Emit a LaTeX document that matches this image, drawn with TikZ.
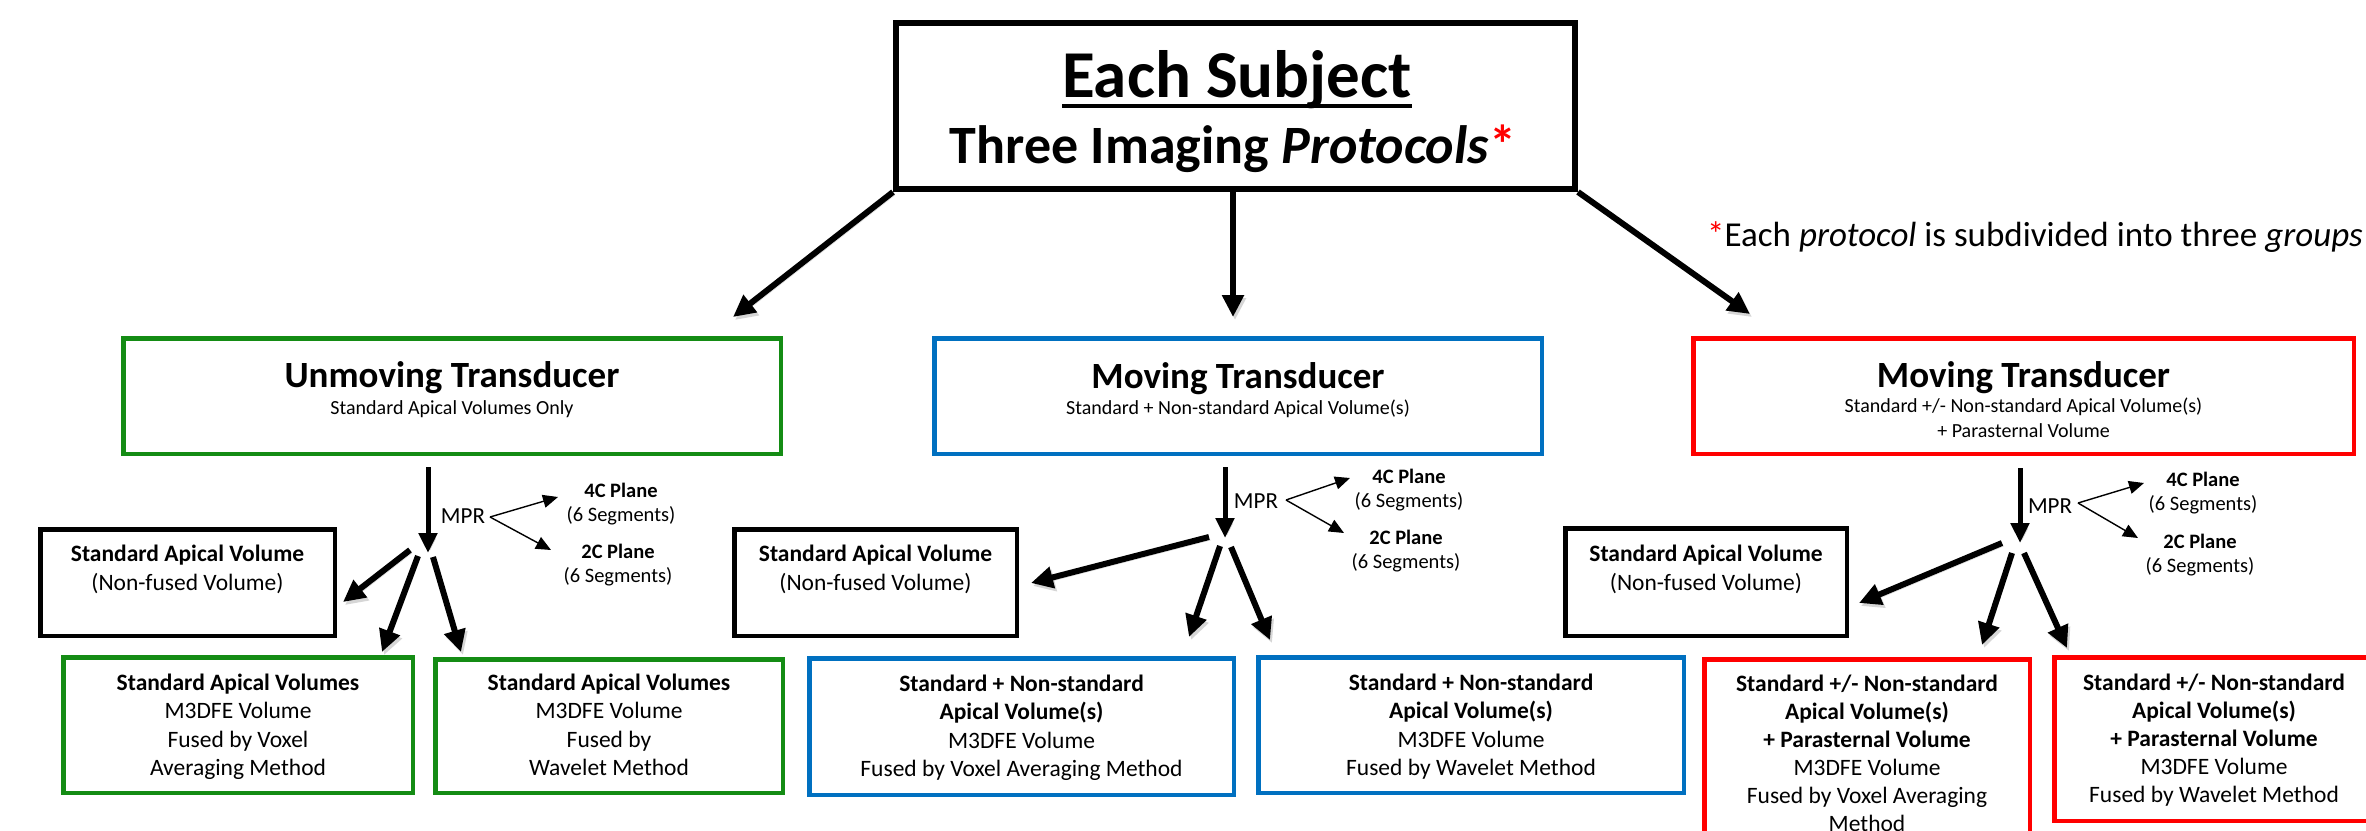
\documentclass[tikz,border=0pt]{standalone}
\usepackage{fontspec}
\setmainfont{Carlito}
\usetikzlibrary{arrows.meta}
\definecolor{gboxc}{RGB}{20,140,20}
\definecolor{bboxc}{RGB}{0,112,192}
\definecolor{rboxc}{RGB}{255,0,0}
\newcommand\fz[2]{\fontsize{#1}{#2}\selectfont}
\newcommand\tst{\rule{0pt}{0.8em}}
\newcommand\thickul[1]{\setbox0\hbox{#1}\rlap{\rule[-11pt]{\wd0}{4pt}}\box0}
\begin{document}
\begin{tikzpicture}[x=1pt,y=-1pt,
  box/.style={draw, line width=4.5pt, inner sep=0pt},
  shad/.style={preaction={draw=black!16, transform canvas={shift={(2pt,-3pt)}}}},
  bigarrow/.style={shad, line width=6pt, -{Triangle[length=22pt,width=21pt]}},
  midarrow/.style={shad, line width=5pt, -{Triangle[length=20pt,width=18pt]}},
  thinarrow/.style={line width=1.4pt, -{Triangle[length=15pt,width=13pt]}},
  txt/.style={inner sep=0pt, align=center},
  bodytxt/.style={txt, anchor=north, font=\fz{23.5}{28.5}},
  ttl/.style={inner sep=0pt, anchor=base, font=\fz{37}{44}\bfseries},
  sub/.style={inner sep=0pt, anchor=north, align=center, font=\fz{20}{25}},
  plane/.style={inner sep=0pt, anchor=north, align=center, font=\fz{20.5}{24}},
  mpr/.style={inner sep=0pt, anchor=base, font=\fz{23}{27}},
]
\path[use as bounding box, fill=white] (0,0) rectangle (2366,830);
\clip (0,0) rectangle (2366,830);

% ---- top box
\node[box, line width=6pt, minimum width=679pt, minimum height=166pt] (top) at (1235.5,106) {};
\node[inner sep=0pt, anchor=base, font=\fz{67}{74}\bfseries] (ttlA) at (1237,97) {\thickul{Each Subject}};
\node[inner sep=0pt, anchor=base, font=\fz{54}{60}\bfseries] (ttlB) at (1233,163) {Three Imaging \textit{Protocols}\textcolor{rboxc}{*}};
\node[inner sep=0pt, anchor=base west, font=\fz{35}{40}] (foot) at (1707,246) {\textcolor{rboxc}{*}Each \textit{protocol} is subdivided into three \textit{groups}};

% ---- level 2 boxes
\node[box, draw=gboxc, minimum width=657.5pt, minimum height=115.5pt] (gtop) at (452,396) {};
\node[box, draw=bboxc, minimum width=607.5pt, minimum height=115.5pt] (btop) at (1238,396) {};
\node[box, draw=rboxc, minimum width=660.5pt, minimum height=115.5pt] (rtop) at (2023.5,396) {};
\node[ttl] (gttl) at (452,387) {Unmoving Transducer};
\node[sub] (gsub) at (452,398) {\tst Standard Apical Volumes Only};
\node[ttl] (bttl) at (1238,388) {Moving Transducer};
\node[sub] (bsub) at (1238,398) {\tst Standard + Non-standard Apical Volume(s)};
\node[ttl] (rttl) at (2023.5,387) {Moving Transducer};
\node[sub] (rsub) at (2023.5,396) {\tst Standard +/- Non-standard Apical Volume(s)\\+ Parasternal Volume};

% ---- top arrows
\coordinate (tl) at (733,317);
\coordinate (tc) at (1233,317);
\coordinate (tr) at (1750,314);
\draw[bigarrow] (top.south west) -- (tl);
\draw[bigarrow] (1233,192) -- (tc);
\draw[bigarrow] (top.south east) -- (tr);

% ================= GREEN
\coordinate (gm0) at (428,467);
\coordinate (gm1) at (428,553);
\draw[midarrow] (gm0) -- (gm1);
\node[mpr] (gmpr) at (463,523) {MPR};
\coordinate (gms) at (490,517);
\coordinate (g4t) at (558,497);
\coordinate (g2t) at (551,550);
\draw[thinarrow] (gms) -- (g4t);
\draw[thinarrow] (gms) -- (g2t);
\node[plane] (g4c) at (621,497-16.4) {\tst\textbf{4C Plane}\\(6 Segments)};
\node[plane] (g2c) at (618,558-16.4) {\tst\textbf{2C Plane}\\(6 Segments)};
\node[box, minimum width=294.5pt, minimum height=106.5pt] (gstd) at (187.5,582.5) {};
\node[bodytxt, font=\fz{23.5}{29}] (gstdt) at (187.5,542) {\tst\textbf{Standard Apical Volume}\\(Non-fused Volume)};
\node[box, draw=gboxc, minimum width=349.5pt, minimum height=135.5pt] (gb1) at (238,725) {};
\node[box, draw=gboxc, minimum width=347.5pt, minimum height=133.5pt] (gb2) at (609,726) {};
\node[bodytxt] (gb1t) at (238,671) {\tst\textbf{Standard Apical Volumes}\\M3DFE Volume\\Fused by Voxel\\Averaging Method};
\node[bodytxt] (gb2t) at (609,671) {\tst\textbf{Standard Apical Volumes}\\M3DFE Volume\\Fused by\\Wavelet Method};
\coordinate (ga1) at (410,550); \coordinate (ga1t) at (343,602);
\coordinate (ga2) at (418,556); \coordinate (ga2t) at (382,652);
\coordinate (ga3) at (433,557); \coordinate (ga3t) at (461,652);
\draw[bigarrow] (ga1) -- (ga1t);
\draw[bigarrow] (ga2) -- (ga2t);
\draw[bigarrow] (ga3) -- (ga3t);

% ================= BLUE
\coordinate (bm0) at (1225,467);
\coordinate (bm1) at (1225,538);
\draw[midarrow] (bm0) -- (bm1);
\node[mpr] (bmpr) at (1256,508) {MPR};
\coordinate (bms) at (1286,500);
\coordinate (b4t) at (1350,478);
\coordinate (b2t) at (1344,533);
\draw[thinarrow] (bms) -- (b4t);
\draw[thinarrow] (bms) -- (b2t);
\node[plane] (b4c) at (1409,483-16.4) {\tst\textbf{4C Plane}\\(6 Segments)};
\node[plane] (b2c) at (1406,544-16.4) {\tst\textbf{2C Plane}\\(6 Segments)};
\node[box, minimum width=282.5pt, minimum height=106.5pt] (bstd) at (875.5,582.5) {};
\node[bodytxt, font=\fz{23.5}{29}] (bstdt) at (875.5,542) {\tst\textbf{Standard Apical Volume}\\(Non-fused Volume)};
\node[box, draw=bboxc, minimum width=424.5pt, minimum height=136.5pt] (bb1) at (1021.5,726.5) {};
\node[box, draw=bboxc, minimum width=425.5pt, minimum height=135.5pt] (bb2) at (1471,725) {};
\node[bodytxt] (bb1t) at (1021.5,672) {\tst\textbf{Standard + Non-standard}\\\textbf{Apical Volume(s)}\\M3DFE Volume\\Fused by Voxel Averaging Method};
\node[bodytxt] (bb2t) at (1471,671) {\tst\textbf{Standard + Non-standard}\\\textbf{Apical Volume(s)}\\M3DFE Volume\\Fused by Wavelet Method};
\coordinate (ba1) at (1209,537); \coordinate (ba1t) at (1031,583);
\coordinate (ba2) at (1220,546); \coordinate (ba2t) at (1189,637);
\coordinate (ba3) at (1231,547); \coordinate (ba3t) at (1270,640);
\draw[bigarrow] (ba1) -- (ba1t);
\draw[bigarrow] (ba2) -- (ba2t);
\draw[bigarrow] (ba3) -- (ba3t);

% ================= RED
\coordinate (rm0) at (2020,468);
\coordinate (rm1) at (2020,543);
\draw[midarrow] (rm0) -- (rm1);
\node[mpr] (rmpr) at (2050,513) {MPR};
\coordinate (rms) at (2078,503);
\coordinate (r4t) at (2144,483);
\coordinate (r2t) at (2138,538);
\draw[thinarrow] (rms) -- (r4t);
\draw[thinarrow] (rms) -- (r2t);
\node[plane] (r4c) at (2203,486-16.4) {\tst\textbf{4C Plane}\\(6 Segments)};
\node[plane] (r2c) at (2200,548-16.4) {\tst\textbf{2C Plane}\\(6 Segments)};
\node[box, minimum width=281.5pt, minimum height=107.5pt] (rstd) at (1706,582) {};
\node[bodytxt, font=\fz{23.5}{29}] (rstdt) at (1706,542) {\tst\textbf{Standard Apical Volume}\\(Non-fused Volume)};
\node[box, draw=rboxc, minimum width=325.5pt, minimum height=208.5pt] (rb1) at (1867,763.5) {};
\node[box, draw=rboxc, minimum width=319.5pt, minimum height=163.5pt] (rb2) at (2214,739) {};
\node[bodytxt, font=\fz{23.5}{28}] (rb1t) at (1867,672) {\tst\textbf{Standard +/- Non-standard}\\\textbf{Apical Volume(s)}\\\textbf{+ Parasternal Volume}\\M3DFE Volume\\Fused by Voxel Averaging\\Method};
\node[bodytxt, font=\fz{23.5}{28}] (rb2t) at (2214,671) {\tst\textbf{Standard +/- Non-standard}\\\textbf{Apical Volume(s)}\\\textbf{+ Parasternal Volume}\\M3DFE Volume\\Fused by Wavelet Method};
\coordinate (ra1) at (2002,543); \coordinate (ra1t) at (1859,603);
\coordinate (ra2) at (2012,553); \coordinate (ra2t) at (1982,645);
\coordinate (ra3) at (2024,553); \coordinate (ra3t) at (2067,648);
\draw[bigarrow] (ra1) -- (ra1t);
\draw[bigarrow] (ra2) -- (ra2t);
\draw[bigarrow] (ra3) -- (ra3t);
\end{tikzpicture}
\end{document}
